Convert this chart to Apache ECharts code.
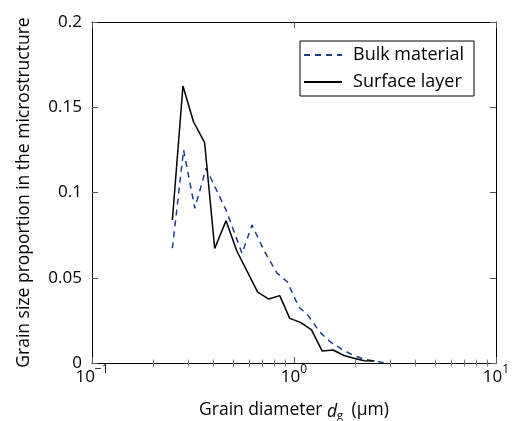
<!DOCTYPE html>
<html>
<head>
  <meta charset="utf-8">
  <title>Grain size distribution</title>
  <script src="https://cdn.jsdelivr.net/npm/echarts@6/dist/echarts.min.js"></script>
  <style>
    html, body { margin: 0; padding: 0; background: #fff; }
  </style>
</head>
<body>
  <div id="main" style="width: 514px; height: 421px;"></div>

  <script>
    // grain diameter (µm) and proportion
    var bulkD = [0.250, 0.284, 0.323, 0.367, 0.461, 0.553, 0.620, 0.708, 0.823, 0.928,
                 1.053, 1.180, 1.339, 1.517, 1.720, 1.951, 2.213, 2.508, 2.845];
    var bulkP = [0.0673, 0.1249, 0.0907, 0.1142, 0.0897, 0.0643, 0.0809, 0.0663, 0.0528, 0.0475,
                 0.0331, 0.0276, 0.0182, 0.0123, 0.0082, 0.0047, 0.0023, 0.0012, 0.0];

    var surfD = [0.250, 0.282, 0.318, 0.361, 0.405, 0.461, 0.521, 0.588, 0.661, 0.750,
                 0.850, 0.953, 1.077, 1.221, 1.380, 1.561, 1.767, 1.981, 2.226, 2.508];
    var surfP = [0.0839, 0.1625, 0.1415, 0.1292, 0.0672, 0.0835, 0.0657, 0.0534, 0.0416, 0.0375,
                 0.0395, 0.0262, 0.0238, 0.0194, 0.0070, 0.0076, 0.0044, 0.0028, 0.0013, 0.0012];

    var seriesNames = ['Bulk material', 'Surface layer'];
    var yTicks = [0, 0.05, 0.1, 0.15, 0.2];
    var minorX = [0.2, 0.3, 0.4, 0.5, 0.6, 0.7, 0.8, 0.9, 2, 3, 4, 5, 6, 7, 8, 9];

    var font = 'Open Sans';
    var blue = '#1f3c88';

    function pairs(xs, ys) {
      return xs.map(function (x, i) { return [x, ys[i]]; });
    }

    // minor ticks sit on a hidden linear axis in log10 space
    var minorLog = minorX.map(function (v) { return Math.log10(v); });

    function expLabel(v) {
      var e = Math.round(Math.log10(v));
      return '{b|10}{sup|' + (e < 0 ? '\u2212' + (-e) : e) + '}';
    }

    var labelRich = {
      b: { fontSize: 17, lineHeight: 17, verticalAlign: 'bottom', fontFamily: font, color: '#000' },
      sup: { fontSize: 12, lineHeight: 12, verticalAlign: 'bottom', padding: [0, 0, 10, 0], fontFamily: font, color: '#000' }
    };

    function majorX(pos, showLabel) {
      return {
        type: 'log', logBase: 10, min: 0.1, max: 10, position: pos,
        axisLine: { show: true, onZero: false, lineStyle: { color: '#000', width: 1 } },
        axisTick: { show: true, inside: true, length: 6, lineStyle: { color: '#555' } },
        splitLine: { show: false },
        axisLabel: showLabel ? {
          margin: 6, formatter: expLabel, rich: labelRich
        } : { show: false },
        name: showLabel ? 'Grain diameter {i|d}{s|g} (\u03bcm)' : '',
        nameLocation: 'middle',
        nameGap: 36,
        nameTextStyle: {
          fontSize: 17.5, fontFamily: font, color: '#000',
          rich: {
            i: { fontSize: 17.5, fontStyle: 'italic', fontFamily: font, color: '#000', lineHeight: 22, verticalAlign: 'bottom' },
            s: { fontSize: 11, fontFamily: font, color: '#000', lineHeight: 11, padding: [11, 4, 0, 0], verticalAlign: 'bottom' }
          }
        }
      };
    }

    function minorXAxis(pos) {
      return {
        type: 'value', min: -1, max: 1, position: pos,
        axisLine: { show: false },
        axisTick: { show: true, inside: true, length: 3.5, customValues: minorLog, lineStyle: { color: '#777' } },
        axisLabel: { show: false },
        splitLine: { show: false }
      };
    }

    function yAx(pos, showLabel) {
      return {
        type: 'value', min: 0, max: 0.2, interval: 0.05, position: pos,
        axisLine: { show: true, onZero: false, lineStyle: { color: '#000', width: 1 } },
        axisTick: { show: true, inside: true, length: 6, lineStyle: { color: '#555' } },
        splitLine: { show: false },
        axisLabel: showLabel ? {
          margin: 10, fontSize: 17, fontFamily: font, color: '#000',
          customValues: yTicks
        } : { show: false },
        name: showLabel ? 'Grain size proportion in the microstructure' : '',
        nameLocation: 'middle',
        nameGap: 59,
        nameTextStyle: { fontSize: 17.5, fontFamily: font, color: '#000' }
      };
    }

    var chart = echarts.init(document.getElementById('main'));

    var option = {
      animation: false,
      backgroundColor: '#fff',
      grid: { left: 92, right: 18, top: 22, bottom: 58, outerBoundsMode: 'none', containLabel: false },
      xAxis: [majorX('bottom', true), minorXAxis('bottom'), majorX('top', false), minorXAxis('top')],
      yAxis: [yAx('left', true), yAx('right', false)],
      legend: {
        orient: 'vertical',
        right: 40,
        top: 41,
        borderColor: '#000',
        borderWidth: 1,
        borderRadius: 0,
        padding: [5, 10, 5, 3],
        itemWidth: 38,
        itemHeight: 14,
        itemGap: 9,
        itemStyle: { opacity: 0 },
        textStyle: { fontSize: 18, lineHeight: 18, fontFamily: font, color: '#000', padding: [0, 0, 0, 6] },
        data: seriesNames
      },
      series: [
        {
          name: seriesNames[0], type: 'line', xAxisIndex: 0, yAxisIndex: 0,
          showSymbol: false, symbol: 'none',
          lineStyle: { color: blue, width: 1.5, type: [6, 5] },
          itemStyle: { color: blue },
          data: pairs(bulkD, bulkP)
        },
        {
          name: seriesNames[1], type: 'line', xAxisIndex: 0, yAxisIndex: 0,
          showSymbol: false, symbol: 'none',
          lineStyle: { color: '#000', width: 1.5 },
          itemStyle: { color: '#000' },
          data: pairs(surfD, surfP)
        }
      ]
    };

    chart.setOption(option);
  </script>
</body>
</html>
